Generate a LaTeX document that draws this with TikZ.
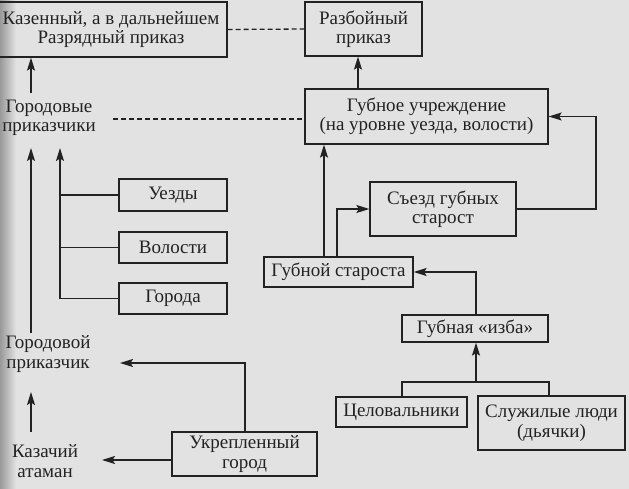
\documentclass[tikz,border=0pt]{standalone}
\usepackage{fontspec}
\setmainfont{Liberation Serif}
\usetikzlibrary{arrows.meta}
\definecolor{paper}{HTML}{E2E2E2}
\definecolor{ink}{HTML}{222222}
\begin{document}
\begin{tikzpicture}[x=1pt,y=-1pt,
  every node/.style={font=\fontsize{19}{19.5}\selectfont, text=ink, align=center, inner sep=0pt},
  box/.style={draw=ink, line width=1.3pt},
  lbl/.style={},
  ln/.style={draw=ink, line width=1.3pt},
  arr/.style={ln, -{Stealth[length=13pt,width=8pt,inset=2.5pt]}},
  dsh/.style={ln, dash pattern=on 5pt off 3pt}]
\fill[paper] (0,0) rectangle (629,489);
\shade[left color=black!40, right color=paper, shading angle=90] (0,0) rectangle (16,489);
\useasboundingbox (0,0) rectangle (629,489);

% boxes
\node[box, minimum width=232pt, minimum height=55pt] (kaz) at (111,29.5) {Казенный, а в дальнейшем\\Разрядный приказ};
\node[box, minimum width=117pt, minimum height=54pt] (rz) at (363.5,29) {Разбойный\\приказ};
\node[box, minimum width=243pt, minimum height=55pt] (gub) at (426.5,116.5) {Губное учреждение\\(на уровне уезда, волости)};
\node[box, minimum width=146pt, minimum height=54pt] (sj) at (443,209) {Съезд губных\\старост};
\node[box, minimum width=149pt, minimum height=30pt] (gs) at (338.5,272) {Губной староста};
\node[box, minimum width=146pt, minimum height=27pt] (izba) at (475,328.5) {Губная «изба»};
\node[box, minimum width=131pt, minimum height=30pt] (cel) at (401.5,412) {Целовальники};
\node[box, minimum width=147pt, minimum height=54pt] (sl) at (551.5,423) {Служилые люди\\(дьячки)};
\node[box, minimum width=145pt, minimum height=44pt] (ug) at (244.5,454) {Укрепленный\\город};
\node[box, minimum width=108pt, minimum height=32pt] (uez) at (173,195) {Уезды};
\node[box, minimum width=108pt, minimum height=31pt] (vol) at (173,247.5) {Волости};
\node[box, minimum width=108pt, minimum height=31pt] (gor) at (173,298.5) {Города};

% free texts
\node[lbl] (gp) at (49,118) {Городовые\\приказчики};
\node[lbl] (gpr) at (48,354) {Городовой\\приказчик};
\node[lbl] (ka) at (45,461) {Казачий\\атаман};

% helper coordinates
\coordinate (x31) at (31,0);
\coordinate (x60) at (60,0);
\coordinate (x337) at (337,0);
\coordinate (x324) at (324,0);
\coordinate (x358) at (358,0);
\coordinate (x476) at (476,0);
\coordinate (x402) at (402,0);
\coordinate (x549) at (549,0);
\coordinate (x596) at (596,0);
\coordinate (x245) at (245,0);
\coordinate (gpTop) at (31,93);
\coordinate (gpBot1) at (31,148);
\coordinate (gpBot2) at (60,148);
\coordinate (gprTop) at (31,333);
\coordinate (gprBot) at (31,392);
\coordinate (kaTop) at (31,432);
\coordinate (dstart) at (113,119);
\coordinate (ugTurn) at (245,363);
\coordinate (gprR) at (120,363);
\coordinate (ugL) at (ug.west |- 0,460);
\coordinate (kaR) at (102,460);
\coordinate (j) at (476,382);

% dashed links
\draw[dsh] (kaz.east) -- (rz.west);
\draw[dsh] (dstart) -- (gub.west |- dstart);

% right part
\draw[arr] (gub.north -| x358) -- (rz.south -| x358);
\draw[arr] (sj.east) -| (x596 |- gub.east) -- (gub.east);
\draw[arr] (gs.north -| x324) -- (gub.south -| x324);
\draw[arr] (gs.north -| x337) |- (sj.west);
\draw[arr] (izba.north -| x476) |- (gs.east);
\draw[ln] (cel.north -| x402) |- (j) -| (sl.north -| x549);
\draw[arr] (j) -- (izba.south -| x476);

% left part
\draw[arr] (gpTop) -- (kaz.south -| x31);
\draw[arr] (gprTop) -- (gpBot1);
\draw[arr] (x60 |- gor.west) -- (gpBot2);
\draw[ln] (gor.west) -- (x60 |- gor.west);
\draw[ln] (vol.west) -- (x60 |- vol.west);
\draw[ln] (uez.west) -- (x60 |- uez.west);
\draw[arr] (kaTop) -- (gprBot);
\draw[arr] (ug.north -| x245) -- (ugTurn) -- (gprR);
\draw[arr] (ugL) -- (kaR);
\end{tikzpicture}
\end{document}
